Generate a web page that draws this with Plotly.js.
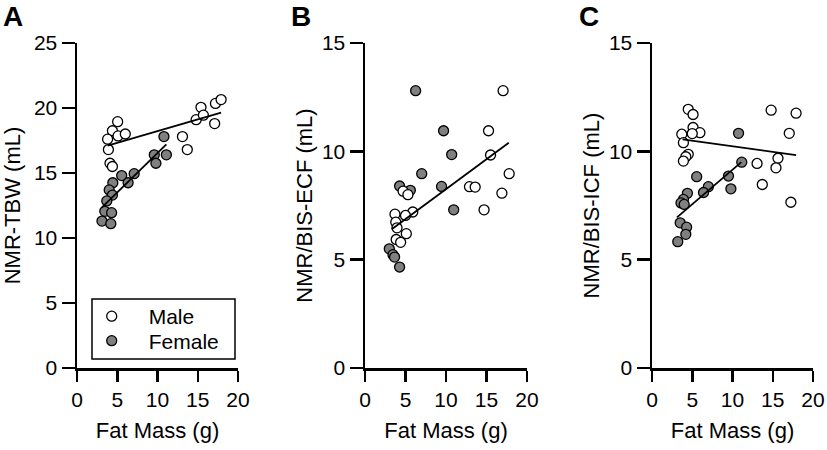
<!DOCTYPE html>
<html>
<head>
<meta charset="utf-8">
<script src="https://cdn.plot.ly/plotly-3.0.1.min.js"></script>
<style>html,body{margin:0;padding:0;background:#fff;}#chart{width:827px;height:450px;}</style>
</head>
<body>
<div id="chart"></div>
<script>
// ---- Panel A: NMR-TBW ----
const maleA_x = [5.05, 4.4, 3.8, 5.1, 6.0, 3.9, 4.1, 4.4, 13.1, 13.7, 14.8, 15.4, 15.7, 17.1, 17.2, 17.9];
const maleA_y = [18.95, 18.25, 17.6, 17.85, 18.0, 16.8, 15.75, 15.5, 17.8, 16.8, 19.1, 20.05, 19.45, 18.8, 20.35, 20.65];
const femaleA_x = [10.8, 9.6, 11.1, 9.8, 7.1, 5.55, 6.35, 4.45, 4.0, 4.4, 3.7, 3.45, 4.3, 3.1, 4.2];
const femaleA_y = [17.8, 16.4, 16.4, 15.75, 14.95, 14.8, 14.25, 14.25, 13.7, 13.3, 12.85, 12.05, 11.95, 11.3, 11.1];
const fitMaleA_x = [3.8, 17.9], fitMaleA_y = [17.1, 19.65];
const fitFemaleA_x = [3.1, 11.1], fitFemaleA_y = [12.35, 17.2];

// ---- Panel B: NMR/BIS-ECF ----
const maleB_x = [17.05, 15.25, 15.5, 17.8, 12.9, 13.6, 16.9, 14.7, 4.7, 5.3, 5.9, 5.0, 3.7, 3.8, 3.95, 5.1, 3.85, 4.4];
const maleB_y = [12.8, 10.95, 9.83, 8.97, 8.37, 8.35, 8.07, 7.3, 8.16, 8.0, 7.2, 7.04, 7.1, 6.73, 6.47, 6.2, 5.93, 5.8];
const femaleB_x = [6.25, 9.7, 10.7, 7.0, 9.45, 10.95, 4.27, 5.6, 3.0, 3.45, 3.65, 4.27];
const femaleB_y = [12.8, 10.95, 9.85, 8.97, 8.38, 7.3, 8.4, 8.2, 5.5, 5.23, 5.12, 4.66];
const fitB_x = [3.3, 17.75], fitB_y = [6.4, 10.4];

// ---- Panel C: NMR/BIS-ICF ----
const maleC_x = [4.5, 5.1, 14.8, 17.9, 5.1, 5.95, 5.0, 3.7, 17.05, 3.9, 4.5, 4.2, 3.9, 15.65, 15.4, 13.05, 13.7, 17.25];
const maleC_y = [11.94, 11.7, 11.9, 11.76, 11.1, 10.86, 10.82, 10.79, 10.83, 10.4, 9.86, 9.75, 9.55, 9.68, 9.24, 9.44, 8.47, 7.65];
const femaleC_x = [10.75, 11.15, 9.5, 9.8, 5.55, 7.0, 6.4, 4.4, 3.9, 3.6, 4.0, 3.5, 4.3, 4.2, 3.2];
const femaleC_y = [10.83, 9.5, 8.86, 8.27, 8.83, 8.37, 8.1, 8.06, 7.78, 7.62, 7.55, 6.7, 6.5, 6.17, 5.83];
const fitMaleC_x = [3.8, 17.9], fitMaleC_y = [10.55, 9.83];
const fitFemaleC_x = [3.1, 11.1], fitFemaleC_y = [6.95, 9.5];

const xTicks = [0, 5, 10, 15, 20];
const yTicksA = [0, 5, 10, 15, 20, 25];
const yTicksBC = [0, 5, 10, 15];
const yTitles = ['NMR-TBW (mL)', 'NMR/BIS-ECF (mL)', 'NMR/BIS-ICF (mL)'];
const xTitle = 'Fat Mass (g)';
const panelLetters = ['A', 'B', 'C'];

const FONT = 'Liberation Sans, Arial, sans-serif';
const femaleColor = '#808080';

function pts(x, y, ax, filled, name, show, leg) {
  return {
    type: 'scatter', mode: 'markers', x: x, y: y, xaxis: ax.x, yaxis: ax.y,
    name: name, showlegend: show, legend: leg || 'legend', cliponaxis: false,
    marker: {size: 10, color: filled ? femaleColor : '#ffffff', line: {color: '#000', width: 1.3}}
  };
}
function fit(x, y, ax) {
  return {type: 'scatter', mode: 'lines', x: x, y: y, xaxis: ax.x, yaxis: ax.y,
    showlegend: false, hoverinfo: 'skip', line: {color: '#000', width: 1.8}};
}
const A = {x: 'x', y: 'y'}, B = {x: 'x2', y: 'y2'}, C = {x: 'x3', y: 'y3'};

const data = [
  pts(maleA_x, maleA_y, A, false, 'Male', true, 'legend'),
  pts(femaleA_x, femaleA_y, A, true, 'Female', true, 'legend2'),
  fit(fitMaleA_x, fitMaleA_y, A), fit(fitFemaleA_x, fitFemaleA_y, A),
  pts(femaleB_x, femaleB_y, B, true, 'Female', false),
  pts(maleB_x, maleB_y, B, false, 'Male', false),
  fit(fitB_x, fitB_y, B),
  pts(maleC_x, maleC_y, C, false, 'Male', false),
  pts(femaleC_x, femaleC_y, C, true, 'Female', false),
  fit(fitMaleC_x, fitMaleC_y, C), fit(fitFemaleC_x, fitFemaleC_y, C)
];

const W = 827, H = 450;
const yDom = [82 / H, (H - 43) / H];
function xax(l, r, anchor) {
  return {domain: [l / W, r / W], anchor: anchor, range: [0, 20], tickvals: xTicks,
    showline: true, linecolor: '#000', linewidth: 2.5, ticks: 'outside', ticklen: 11,
    tickwidth: 2.5, tickcolor: '#000', showgrid: false, zeroline: false, fixedrange: true,
    tickfont: {family: FONT, size: 21, color: '#000'},
    title: {text: xTitle, font: {family: FONT, size: 22, color: '#000'}, standoff: 13}};
}
function yax(anchor, maxv, ticks, title, so) {
  return {domain: yDom, anchor: anchor, range: [0, maxv], tickvals: ticks,
    showline: true, linecolor: '#000', linewidth: 2.5, ticks: 'outside', ticklen: 13,
    tickwidth: 2.5, tickcolor: '#000', showgrid: false, zeroline: false, fixedrange: true,
    tickfont: {family: FONT, size: 21, color: '#000'},
    title: {text: title, font: {family: FONT, size: 22, color: '#000'}, standoff: so}};
}
function leg(top) {
  return {x: 74.7 / W, y: 1 - top / H, xanchor: 'left', yanchor: 'top',
    bgcolor: 'rgba(0,0,0,0)', borderwidth: 0, font: {family: FONT, size: 21, color: '#000'},
    itemwidth: 64, tracegroupgap: 0};
}

const layout = {
  width: W, height: H, margin: {l: 0, r: 0, t: 0, b: 0},
  paper_bgcolor: '#fff', plot_bgcolor: '#fff',
  font: {family: FONT, color: '#000'},
  xaxis: xax(77, 238, 'y'), yaxis: yax('x', 25, yTicksA, yTitles[0], 9),
  xaxis2: xax(365, 527, 'y2'), yaxis2: yax('x2', 15, yTicksBC, yTitles[1], 3),
  xaxis3: xax(652, 813, 'y3'), yaxis3: yax('x3', 15, yTicksBC, yTitles[2], 3),
  showlegend: true,
  legend: leg(296), legend2: leg(320.5),
  shapes: [{type: 'rect', xref: 'paper', yref: 'paper', x0: 92 / W, x1: 235 / W,
    y0: 1 - 359 / H, y1: 1 - 299 / H, line: {color: '#000', width: 1.5}}],
  annotations: panelLetters.map((t, i) => ({
    text: '<b>' + t + '</b>', xref: 'paper', yref: 'paper',
    x: [13, 301, 589][i] / W, y: 1, xanchor: 'center', yanchor: 'top', borderpad: 0,
    showarrow: false, font: {family: FONT, size: 28, color: '#000'}
  }))
};

Plotly.newPlot('chart', data, layout, {displayModeBar: false, staticPlot: true});
</script>
</body>
</html>
